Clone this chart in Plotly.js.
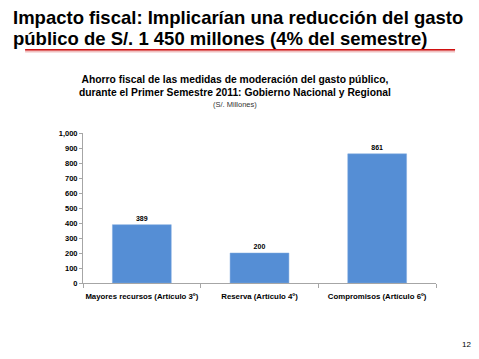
<!DOCTYPE html>
<html><head><meta charset="utf-8">
<script src="https://cdn.plot.ly/plotly-3.0.1.min.js"></script>
<style>html,body{margin:0;padding:0;background:#fff}#c{width:479px;height:359px}</style>
</head><body><div id="c"></div>
<script>
const categories = ["Mayores recursos (Artículo 3º)", "Reserva (Artículo 4º)", "Compromisos (Artículo 6º)"];
const values = [389, 200, 861];
const yTicks = [0, 100, 200, 300, 400, 500, 600, 700, 800, 900, 1000];

const trace = {
  type: 'bar', x: categories, y: values,
  marker: {color: '#558ED5', line: {color: '#7FA9DE', width: 0.5}},
  text: values.map(v => String(v)), textposition: 'outside',
  textfont: {family: 'Liberation Sans', size: 7, color: '#000', weight: 'bold'},
  cliponaxis: false, hoverinfo: 'none'
};

const layout = {
  width: 479, height: 359, paper_bgcolor: '#fff', plot_bgcolor: '#fff',
  margin: {l: 83, r: 43, t: 133, b: 76},
  bargap: 0.5, showlegend: false,
  xaxis: {
    type: 'category', showline: true, linecolor: '#A6A6A6', linewidth: 1,
    ticks: 'outside', tickson: 'boundaries', ticklen: 4, tickcolor: '#A6A6A6',
    tickangle: 0, ticklabelstandoff: 6,
    tickfont: {family: 'Liberation Sans', size: 7.8, color: '#000', weight: 'bold'},
    showgrid: false, zeroline: false
  },
  yaxis: {
    range: [0, 1000], tickvals: yTicks, ticktext: yTicks.map(v => v.toLocaleString('en-US')),
    showline: true, linecolor: '#A6A6A6', linewidth: 1,
    ticks: 'outside', ticklen: 3, tickcolor: '#A6A6A6',
    tickfont: {family: 'Liberation Sans', size: 7.5, color: '#000', weight: 'bold'},
    showgrid: false, zeroline: false
  },
  shapes: [
    {type: 'line', xref: 'paper', yref: 'paper', x0: -0.164, x1: 1.054, y0: 1.547, y1: 1.547,
     line: {color: '#F0C0C0', width: 3}},
    {type: 'line', xref: 'paper', yref: 'paper', x0: -0.164, x1: 1.054, y0: 1.555, y1: 1.555,
     line: {color: '#D01010', width: 1.5}}
  ],
  annotations: [
    {text: '<b>Impacto fiscal: Implicarían una reducción del gasto</b>', xref: 'paper', yref: 'paper',
     x: -0.205, y: 1.773, xanchor: 'left', yanchor: 'middle', showarrow: false,
     font: {family: 'Liberation Sans', size: 18.5, color: '#000'}},
    {text: '<b>público de S/. 1 450 millones (4% del semestre)</b>', xref: 'paper', yref: 'paper',
     x: -0.205, y: 1.633, xanchor: 'left', yanchor: 'middle', showarrow: false,
     font: {family: 'Liberation Sans', size: 18.5, color: '#000'}},
    {text: '<b>Ahorro fiscal de las medidas de moderación del gasto público,<br>durante el Primer Semestre 2011: Gobierno Nacional y Regional</b>',
     xref: 'paper', yref: 'paper', x: 0.43, y: 1.313, xanchor: 'center', yanchor: 'middle', showarrow: false,
     font: {family: 'Liberation Sans', size: 10.3, color: '#000'}},
    {text: '(S/. Millones)', xref: 'paper', yref: 'paper', x: 0.43, y: 1.193, xanchor: 'center', yanchor: 'middle', showarrow: false,
     font: {family: 'Liberation Sans', size: 7.5, color: '#333'}},
    {text: '12', xref: 'paper', yref: 'paper', x: 1.085, y: -0.413, xanchor: 'center', yanchor: 'middle', showarrow: false,
     font: {family: 'Liberation Sans', size: 8, color: '#000'}}
  ]
};

Plotly.newPlot('c', [trace], layout, {staticPlot: true, displayModeBar: false});
</script></body></html>
